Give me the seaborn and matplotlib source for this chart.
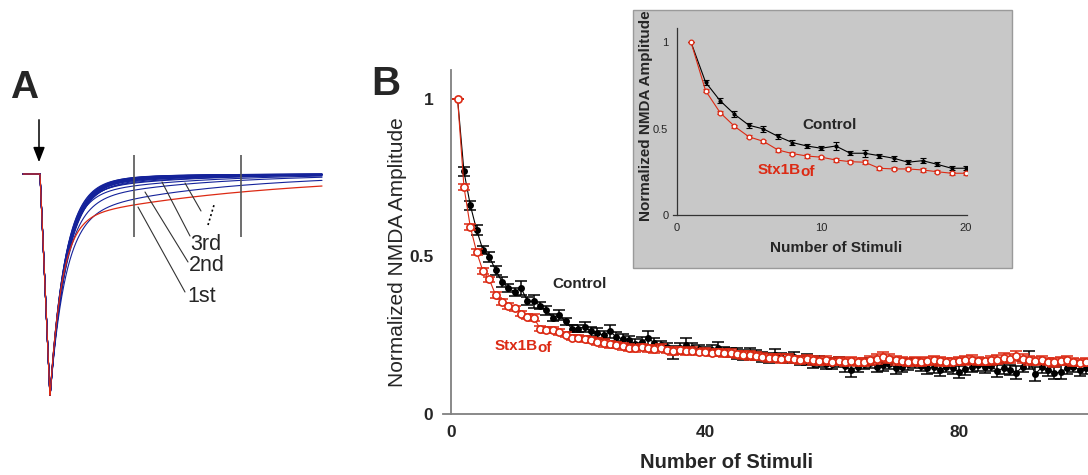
import numpy as np
import pandas as pd
import seaborn as sns
import matplotlib
matplotlib.use("Agg")
import matplotlib.pyplot as plt
from matplotlib.patches import Rectangle

sns.set_style("white")
plt.rcParams['font.family'] = ['Liberation Sans', 'DejaVu Sans']

W, H = 1088, 475
RED = '#dc2a14'
BLUE = '#14229a'
GREY = '#808080'

# ---------------- panel B data (normalized NMDA amplitude per stimulus) ----------------
stimuli = np.arange(1, 101)

control = [1.0, 0.770, 0.663, 0.584, 0.520, 0.499, 0.456, 0.420, 0.400, 0.387,
           0.400, 0.358, 0.358, 0.344, 0.329, 0.306, 0.315, 0.294, 0.271, 0.271,
           0.277, 0.262, 0.257, 0.250, 0.262, 0.245, 0.238, 0.235, 0.222, 0.230,
           0.240, 0.226, 0.218, 0.212, 0.196, 0.208, 0.219, 0.210, 0.205, 0.199,
           0.203, 0.209, 0.200, 0.196, 0.192, 0.188, 0.193, 0.186, 0.181, 0.178,
           0.188, 0.180, 0.175, 0.182, 0.170, 0.173, 0.162, 0.166, 0.158, 0.160,
           0.165, 0.152, 0.140, 0.150, 0.158, 0.162, 0.150, 0.155, 0.160, 0.146,
           0.150, 0.158, 0.162, 0.152, 0.146, 0.148, 0.140, 0.150, 0.145, 0.134,
           0.142, 0.150, 0.155, 0.148, 0.152, 0.138, 0.145, 0.140, 0.131, 0.150,
           0.171, 0.127, 0.148, 0.140, 0.130, 0.133, 0.145, 0.150, 0.140, 0.145]

control_sem = [0.0, 0.015, 0.014, 0.016, 0.013, 0.016, 0.015, 0.016, 0.014, 0.013,
               0.022, 0.013, 0.020, 0.012, 0.014, 0.011, 0.016, 0.012, 0.011, 0.012,
               0.016, 0.014, 0.015, 0.013, 0.022, 0.014, 0.016, 0.013, 0.015, 0.014,
               0.025, 0.015, 0.014, 0.013, 0.020, 0.016, 0.022, 0.014, 0.015, 0.013,
               0.016, 0.018, 0.014, 0.015, 0.016, 0.015, 0.017, 0.016, 0.015, 0.016,
               0.017, 0.015, 0.014, 0.016, 0.015, 0.016, 0.015, 0.017, 0.016, 0.018,
               0.017, 0.018, 0.022, 0.016, 0.015, 0.017, 0.016, 0.018, 0.017, 0.020,
               0.016, 0.017, 0.015, 0.016, 0.018, 0.017, 0.019, 0.016, 0.017, 0.019,
               0.018, 0.016, 0.017, 0.018, 0.016, 0.019, 0.018, 0.017, 0.020, 0.018,
               0.028, 0.022, 0.018, 0.019, 0.020, 0.022, 0.018, 0.017, 0.019, 0.018]

stx1b = [1.0, 0.721, 0.594, 0.514, 0.453, 0.427, 0.377, 0.356, 0.342, 0.335,
         0.319, 0.309, 0.306, 0.271, 0.267, 0.267, 0.261, 0.251, 0.242, 0.242,
         0.238, 0.235, 0.230, 0.226, 0.222, 0.219, 0.215, 0.211, 0.209, 0.212,
         0.208, 0.206, 0.210, 0.204, 0.200, 0.203, 0.199, 0.201, 0.197, 0.198,
         0.195, 0.196, 0.193, 0.194, 0.190, 0.188, 0.186, 0.184, 0.182, 0.178,
         0.179, 0.176, 0.177, 0.174, 0.172, 0.174, 0.170, 0.168, 0.170, 0.166,
         0.167, 0.165, 0.168, 0.166, 0.165, 0.170, 0.174, 0.180, 0.176, 0.170,
         0.168, 0.165, 0.167, 0.166, 0.168, 0.170, 0.167, 0.165, 0.166, 0.168,
         0.170, 0.172, 0.168, 0.167, 0.170, 0.173, 0.178, 0.176, 0.184, 0.175,
         0.170, 0.168, 0.172, 0.166, 0.164, 0.167, 0.170, 0.165, 0.163, 0.166]

stx1b_sem = [0.0, 0.010, 0.009, 0.010, 0.009, 0.008, 0.010, 0.009, 0.009, 0.008,
             0.009, 0.008, 0.010, 0.008, 0.009, 0.009, 0.010, 0.008, 0.008, 0.009,
             0.010, 0.011, 0.010, 0.012, 0.011, 0.010, 0.011, 0.012, 0.011, 0.010,
             0.011, 0.012, 0.011, 0.010, 0.012, 0.011, 0.012, 0.011, 0.010, 0.011,
             0.012, 0.011, 0.013, 0.012, 0.011, 0.012, 0.013, 0.012, 0.011, 0.012,
             0.012, 0.013, 0.012, 0.011, 0.013, 0.012, 0.014, 0.012, 0.013, 0.012,
             0.013, 0.012, 0.014, 0.013, 0.012, 0.013, 0.015, 0.016, 0.014, 0.013,
             0.012, 0.013, 0.014, 0.013, 0.012, 0.013, 0.014, 0.013, 0.012, 0.014,
             0.013, 0.014, 0.013, 0.012, 0.014, 0.015, 0.016, 0.014, 0.017, 0.014,
             0.013, 0.014, 0.013, 0.012, 0.014, 0.013, 0.014, 0.013, 0.012, 0.013]

# ---------------- panel A: example NMDA currents (normalized, time in ms) ----------------
# each trace: rise to peak, then fast + slow exponential decay (fit values)
peak_time = 10
first_slow, first_tau_slow, first_tau_fast = 0.21, 200, 12
blue_slow = [0.20, 0.14, 0.11, 0.09, 0.08, 0.07, 0.065, 0.06, 0.055, 0.05,
             0.05, 0.045, 0.045, 0.04, 0.04, 0.04, 0.035, 0.035]
blue_tau_slow = [140, 120, 110, 100, 100, 95, 95, 90, 90, 85,
                 85, 80, 80, 80, 75, 75, 70, 70]
blue_tau_fast = [15, 15, 14, 14, 15, 16, 15, 16, 15, 16,
                 17, 15, 16, 17, 16, 15, 16, 17]
cursor_times = [94, 201]


def fx(x):
    return x / W


def fy(y):
    return 1 - y / H


def trace(t, slow, tau_s, tau_f):
    decay = (1 - slow) * np.exp(-(t - peak_time) / tau_f) + slow * np.exp(-(t - peak_time) / tau_s)
    return np.where(t < 0, 0.0, np.where(t < peak_time, -t / peak_time, -decay))


fig = plt.figure(figsize=(W / 100, H / 100), dpi=100)

# ================= A =================
axA = fig.add_axes([0, 0, 340 / W, 1])
axA.set_xlim(-40, 300)
axA.set_ylim(-(H - 174) / 223, 174 / 223)
axA.axis('off')


def a_pt(x, y):
    # figure pixel -> panel A data coords (for annotation layout only)
    return x - 40, -(y - 174) / 223


t = np.linspace(-17, 282, 1500)
rows = []
for i, (s, ts, tf) in enumerate(zip(blue_slow, blue_tau_slow, blue_tau_fast)):
    rows.append(pd.DataFrame({'t': t, 'amp': trace(t, s, ts, tf), 'trace': i}))
blue_df = pd.concat(rows)
sns.lineplot(data=blue_df, x='t', y='amp', units='trace', estimator=None,
             color=BLUE, lw=0.8, ax=axA, legend=False)
sns.lineplot(x=t, y=trace(t, first_slow, first_tau_slow, first_tau_fast),
             color=RED, lw=0.9, ax=axA, legend=False)

y0 = a_pt(0, 237)[1]
y1 = a_pt(0, 155)[1]
axA.vlines(cursor_times, y0, y1, color='#555555', lw=1.2)

axA.annotate('', xy=a_pt(39, 165), xytext=a_pt(39, 117),
             arrowprops=dict(arrowstyle='-|>,head_length=0.9,head_width=0.35',
                             color='black', lw=1.1, mutation_scale=10))

for (xa, ya, xb, yb) in [(138, 207, 185, 292), (145, 192, 188, 262),
                         (162, 182, 190, 236), (185, 183, 201, 211)]:
    pa, pb = a_pt(xa, ya), a_pt(xb, yb)
    axA.plot([pa[0], pb[0]], [pa[1], pb[1]], color='#333333', lw=0.8)
pa, pb = a_pt(208, 225), a_pt(214, 205)
axA.plot([pa[0], pb[0]], [pa[1], pb[1]], color='black', lw=1.2, ls=(0, (1.2, 1.6)))

for lab, x, y in [('3rd', 190, 245), ('2nd', 189, 266), ('1st', 187, 297)]:
    axA.text(*a_pt(x, y), lab, fontsize=15.5, ha='left', va='center')

fig.text(fx(10), fy(98), 'A', fontsize=28, fontweight='bold', ha='left', va='baseline')
fig.text(fx(371), fy(95), 'B', fontsize=29, fontweight='bold', ha='left', va='baseline')

# ================= B main =================
axB = fig.add_axes([fx(443), 61 / H, 645 / W, 344 / H])
axB.set_facecolor('none')

axB.errorbar(stimuli, control, yerr=control_sem, fmt='none', ecolor='black',
             elinewidth=1.1, capsize=4, capthick=1.1, zorder=2)
sns.lineplot(x=stimuli, y=control, ax=axB, color='black', lw=0.8, marker='o',
             markersize=5, markeredgewidth=0, zorder=3)
axB.errorbar(stimuli, stx1b, yerr=stx1b_sem, fmt='none', ecolor=RED,
             elinewidth=1.1, capsize=4.5, capthick=1.1, zorder=4)
sns.lineplot(x=stimuli, y=stx1b, ax=axB, color=RED, lw=0.8, marker='o',
             markersize=5.2, markerfacecolor='white', markeredgecolor=RED,
             markeredgewidth=1.2, zorder=5)

axB.set_xlim(-1.3, 100.3)
axB.set_ylim(0, 1.092)
axB.spines['left'].set_position(('data', 0))
for side in ['top', 'right']:
    axB.spines[side].set_visible(False)
for side in ['left', 'bottom']:
    axB.spines[side].set_color(GREY)
    axB.spines[side].set_linewidth(1.3)
axB.set_yticks([0, 0.5, 1])
axB.set_yticklabels(['0', '0.5', '1'])
axB.set_yticks(np.arange(0.1, 1.0, 0.1), minor=True)
axB.set_xticks([0, 40, 80])
axB.set_xticklabels(['0', '40', '80'])
axB.set_xticks([20, 60, 100], minor=True)
axB.tick_params(axis='y', which='major', direction='out', length=9, width=1.2,
                color=GREY, pad=4, labelsize=12.5)
axB.tick_params(axis='y', which='minor', direction='out', length=5, width=1.2, color=GREY)
axB.tick_params(axis='x', which='major', direction='out', length=4, width=1.2,
                color=GREY, pad=4, labelsize=12.5)
axB.tick_params(axis='x', which='minor', direction='in', length=4, width=1.2, color=GREY)
for lbl in axB.get_xticklabels() + axB.get_yticklabels():
    lbl.set_fontweight('bold')
axB.set_xlabel('Number of Stimuli', fontsize=14.5, fontweight='bold')
axB.xaxis.set_label_coords((727 - 443) / 645, (414 - 453) / 344)
axB.set_ylabel('Normalized NMDA Amplitude', fontsize=15)
axB.yaxis.set_label_coords((407 - 443) / 645, (414 - 252) / 344)

fig.text(fx(580), fy(284), 'Control', fontsize=11, fontweight='bold', ha='center', va='center')
s1 = fig.text(fx(495), fy(346), 'Stx1B', fontsize=11, fontweight='bold', color=RED,
              ha='left', va='center')
axB.annotate('of', xy=(1, 0.06), xycoords=s1, xytext=(-0.3, 0), textcoords='offset points',
             fontsize=11, fontweight='bold', color=RED, ha='left', va='baseline')

# ================= B inset =================
box = Rectangle((fx(633), fy(268)), 379 / W, 258 / H, transform=fig.transFigure,
                facecolor='#c8c8c8', edgecolor='#9a9a9a', lw=1, zorder=1.5)
fig.patches.append(box)

axI = fig.add_axes([fx(673), fy(215), 293.7 / W, 187 / H], zorder=2)
axI.set_facecolor('none')
axI.errorbar(stimuli[:20], control[:20], yerr=control_sem[:20], fmt='none', ecolor='black',
             elinewidth=0.8, capsize=2.2, capthick=0.8, zorder=2)
sns.lineplot(x=stimuli[:20], y=control[:20], ax=axI, color='black', lw=0.8, marker='o',
             markersize=3, markeredgewidth=0, zorder=3)
axI.errorbar(stimuli[:20], stx1b[:20], yerr=stx1b_sem[:20], fmt='none', ecolor=RED,
             elinewidth=0.8, capsize=2.2, capthick=0.8, zorder=4)
sns.lineplot(x=stimuli[:20], y=stx1b[:20], ax=axI, color=RED, lw=0.8, marker='o',
             markersize=3.4, markerfacecolor='white', markeredgecolor=RED,
             markeredgewidth=0.9, zorder=5)
axI.set_xlim(-0.25, 20.05)
axI.set_ylim(0, 1.084)
axI.spines['left'].set_position(('data', 0))
for side in ['top', 'right']:
    axI.spines[side].set_visible(False)
for side in ['left', 'bottom']:
    axI.spines[side].set_color('#333333')
    axI.spines[side].set_linewidth(0.9)
axI.set_yticks([0, 0.5, 1])
axI.set_yticklabels(['0', '0.5', '1'])
axI.set_xticks([0, 10, 20])
axI.set_xticklabels(['0', '10', '20'])
axI.set_xticks([5, 15], minor=True)
axI.tick_params(axis='y', which='major', direction='out', length=4, width=0.9,
                color='#333333', pad=2, labelsize=8)
axI.tick_params(axis='x', which='major', direction='out', length=3, width=0.9,
                color='#333333', pad=3, labelsize=8)
axI.tick_params(axis='x', which='minor', direction='in', length=3, width=0.9, color='#333333')
axI.set_xlabel('Number of Stimuli', fontsize=11, fontweight='bold')
axI.xaxis.set_label_coords((836 - 673) / 293.7, (215 - 241) / 187)
axI.set_ylabel('Normalized NMDA Amplitude', fontsize=11, fontweight='bold')
axI.yaxis.set_label_coords((653 - 673) / 293.7, (215 - 116) / 187)

fig.text(fx(830), fy(125), 'Control', fontsize=11, fontweight='bold', ha='center', va='center',
         zorder=3)
s2 = fig.text(fx(758), fy(170), 'Stx1B', fontsize=11, fontweight='bold', color=RED,
              ha='left', va='center', zorder=3)
axI.annotate('of', xy=(1, 0.06), xycoords=s2, xytext=(-0.3, 0), textcoords='offset points',
             fontsize=11, fontweight='bold', color=RED, ha='left', va='baseline')

fig.savefig('out.png', dpi=100)
